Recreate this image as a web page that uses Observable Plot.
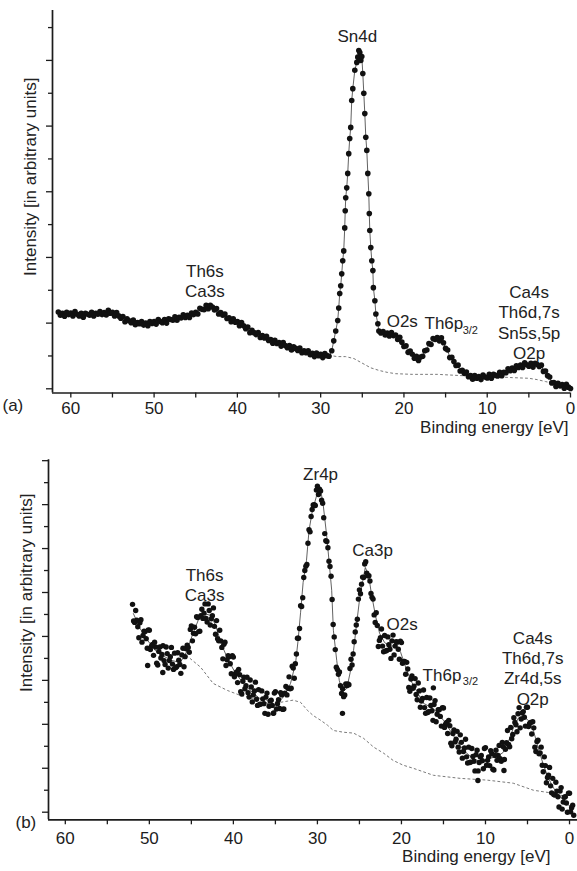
<!DOCTYPE html>
<html><head><meta charset="utf-8">
<script src="https://cdn.jsdelivr.net/npm/d3@7"></script>
<script src="https://cdn.jsdelivr.net/npm/@observablehq/plot@0.6"></script>
<style>
body{margin:0;background:#fff;}
#chart svg{display:block;}
</style></head><body><div id="chart"></div>
<script>
// ---------- Panel (a): Sn-containing sample ----------
const aBandHigh = [[61.5,11.7],[61.25,11.2],[61.0,11.5],[60.75,11.05],[60.5,11.65],[60.25,11.3],[60.0,11.55],[59.75,11.1],[59.5,11.75],[59.25,11.35],[59.0,11.1],[58.75,11.5],[58.5,10.9],[58.25,11.5],[58.0,11.35],[57.75,11.2],[57.5,11.65],[57.25,11.1],[57.0,11.5],[56.75,11.35],[56.5,11.75],[56.25,11.3],[56.0,11.6],[55.75,11.25],[55.5,11.95],[55.25,11.5],[55.0,11.65],[54.75,11.1],[54.5,11.6],[54.25,11.1],[54.0,10.75],[53.75,11.0],[53.5,10.2],[53.25,10.65],[53.0,10.35],[52.75,10.05],[52.5,10.45],[52.25,9.75],[52.0,10.1],[51.75,9.9],[51.5,10.25],[51.25,9.7],[51.0,10.0],[50.75,9.6],[50.5,10.25],[50.25,9.95],[50.0,10.25],[49.75,9.85],[49.5,10.55],[49.25,10.25],[49.0,10.05],[48.75,10.55],[48.5,10.0],[48.25,10.65],[48.0,10.55],[47.75,10.45],[47.5,10.95],[47.25,10.45],[47.0,10.9],[46.75,10.8],[46.5,11.25],[46.25,10.85],[46.0,11.2],[45.75,10.85],[45.5,11.55],[45.25,11.3],[45.0,11.65],[44.75,11.4],[44.5,12.25],[44.25,12.1],[44.0,12.05],[43.75,12.7],[43.5,12.2],[43.25,12.7],[43.0,12.45],[42.75,12.0],[42.5,12.2],[42.25,11.4],[42.0,11.6],[41.75,11.2],[41.5,11.4],[41.25,10.7],[41.0,10.8],[40.75,10.2],[40.5,10.65],[40.25,10.15],[40.0,10.25],[39.75,9.6],[39.5,10.1],[39.25,9.6],[39.0,9.15],[38.75,9.4],[38.5,8.55],[38.25,8.9],[38.0,8.55],[37.75,8.25],[37.5,8.55],[37.25,7.8],[37.0,8.1],[36.75,7.75],[36.5,8.0],[36.25,7.35],[36.0,7.5],[35.75,6.95],[35.5,7.4],[35.25,6.9],[35.0,7.05],[34.75,6.5],[34.5,7.05],[34.25,6.6],[34.0,6.25],[33.75,6.6],[33.5,5.9],[33.25,6.4],[33.0,6.15],[32.75,5.85],[32.5,6.2],[32.25,5.5],[32.0,5.8],[31.75,5.5],[31.5,5.8],[31.25,5.2],[31.0,5.4],[30.75,4.9],[30.5,5.45],[30.25,5.05],[30.0,5.25],[29.75,4.75],[29.5,5.35],[29.25,5.05],[29.0,4.95]];
const aPeak = [[28.67,5.8],[28.43,7.3],[28.19,8.8],[27.95,10.4],[27.83,12.3],[27.71,14.5],[27.59,15.7],[27.47,17.5],[27.35,19.5],[27.23,21.0],[27.11,24.5],[27.05,27.1],[26.99,29.1],[26.87,30.6],[26.75,32.8],[26.63,35.8],[26.51,38.1],[26.39,39.8],[26.27,43.9],[26.14,45.7],[25.9,48.5],[25.66,49.7],[25.54,50.5],[25.42,51.5],[25.3,51.2],[25.18,50.0],[25.06,50.6],[24.94,48.0],[24.82,45.0],[24.7,41.9],[24.58,38.3],[24.46,36.3],[24.34,32.8],[24.22,29.7],[24.16,26.7],[24.1,24.1],[23.98,21.5],[23.86,19.5],[23.73,18.0],[23.67,15.4],[23.49,13.4],[23.37,11.4],[23.13,9.9],[23.01,8.8],[22.77,8.5]];
const aBandLow = [[22.5,8.7],[22.25,8.2],[22.0,8.5],[21.75,8.05],[21.5,8.55],[21.25,8.1],[21.0,8.2],[20.75,7.5],[20.5,7.85],[20.25,7.1],[20.0,6.45],[19.75,6.55],[19.5,5.55],[19.25,5.75],[19.0,5.25],[18.75,4.65],[18.5,4.95],[18.25,4.3],[18.0,4.85],[17.75,4.95],[17.5,5.8],[17.25,5.9],[17.0,6.9],[16.75,6.75],[16.5,7.65],[16.25,7.5],[16.0,7.8],[15.75,7.3],[15.5,7.75],[15.25,7.0],[15.0,6.15],[14.75,5.9],[14.5,4.75],[14.25,4.8],[14.0,4.15],[13.75,3.55],[13.5,3.6],[13.25,2.7],[13.0,2.8],[12.75,2.35],[12.5,2.55],[12.25,1.85],[12.0,2.0],[11.75,1.45],[11.5,2.0],[11.25,1.6],[11.0,1.85],[10.75,1.4],[10.5,2.1],[10.25,1.8],[10.0,1.65],[9.75,2.2],[9.5,1.6],[9.25,2.2],[9.0,2.05],[8.75,1.95],[8.5,2.5],[8.25,2.0],[8.0,2.5],[7.75,2.45],[7.5,3.05],[7.25,2.75],[7.0,3.15],[6.75,2.8],[6.5,3.5],[6.25,3.25],[6.0,3.6],[5.75,3.25],[5.5,3.95],[5.25,3.65],[5.0,3.45],[4.75,3.9],[4.5,3.3],[4.25,3.9],[4.0,3.7],[3.75,3.4],[3.5,3.6],[3.25,2.65],[3.0,2.7],[2.75,2.0],[2.5,1.8],[2.25,0.9],[2.0,0.95],[1.75,0.35],[1.5,0.85],[1.25,0.45],[1.0,0.65],[0.75,0.1],[0.5,0.7],[0.25,0.25],[0.0,0.05]];
const aBackground = [[29.0,5.1],[28.0,4.9],[27.0,4.9],[26.0,4.6],[25.0,3.9],[24.0,3.2],[23.0,2.8],[22.0,2.5],[21.0,2.3],[19.0,2.2],[16.0,2.2],[13.0,2.0],[10.0,1.9],[7.0,1.7],[5.0,1.6],[4.0,1.4],[3.0,1.1],[2.0,0.8],[1.0,0.5],[0.0,0.2]];
const aLabels = [
  {e:43.9, v:16.5, t:"Th6s\nCa3s"},
  {e:25.6, v:53.8, t:"Sn4d"},
  {e:20.2, v:10.4, t:"O2s"},
  {e:4.97, v:10.2, t:"Ca4s\nTh6d,7s\nSn5s,5p\nO2p"}
];
const aLabelStart = [{e:17.53, v:9.95, t:"Th6p"}];
const aSub = [{e:12.95, v:8.9, t:"3/2"}];

// ---------- Panel (b): Zr-containing sample ----------
const bPoints = [[52.0,47.3],[51.75,43.2],[51.5,43.7],[51.25,39.7],[51.0,43.8],[50.75,40.2],[50.5,41.1],[50.25,37.3],[50.0,41.4],[49.75,37.8],[49.5,35.7],[49.25,37.6],[49.0,33.5],[48.75,37.6],[48.5,35.9],[48.25,34.5],[48.0,37.6],[47.75,32.8],[47.5,35.4],[47.25,33.7],[47.0,36.2],[46.75,33.1],[46.5,34.6],[46.25,31.6],[46.0,37.3],[45.75,35.4],[45.5,38.0],[45.25,36.4],[45.0,42.4],[44.75,40.7],[44.5,40.6],[44.25,44.3],[44.0,41.2],[43.75,46.2],[43.5,45.3],[43.25,44.1],[43.0,47.4],[42.75,42.6],[42.5,44.7],[42.25,42.3],[42.0,43.6],[41.75,39.0],[41.5,39.0],[41.25,34.9],[41.0,38.7],[40.75,34.7],[40.5,35.4],[40.25,31.5],[40.0,35.3],[39.75,31.5],[39.5,29.5],[39.25,31.3],[39.0,26.9],[38.75,30.7],[38.5,28.8],[38.25,27.2],[38.0,30.1],[37.75,25.1],[37.5,27.6],[37.25,25.7],[37.0,27.9],[36.75,24.6],[36.5,25.8],[36.25,22.5],[36.0,27.1],[35.75,24.1],[35.5,25.5],[35.25,22.5],[35.0,27.4],[34.75,24.7],[34.5,23.6],[34.25,26.7],[34.0,23.5],[33.75,28.6],[33.5,28.2],[33.25,28.1],[33.0,33.2],[32.75,30.5],[32.5,36.0],[32.25,39.6],[32.0,47.0],[31.75,48.8],[31.5,55.0],[31.25,56.4],[31.0,64.3],[30.75,67.3],[30.5,69.9],[30.25,69.8],[30.0,74.2],[29.75,73.5],[29.5,71.0],[29.25,67.0],[29.0,61.8],[28.75,60.2],[28.5,55.9],[28.25,48.4],[28.0,39.9],[27.75,33.0],[27.5,31.4],[27.25,28.8],[27.0,28.1],[26.75,26.7],[26.5,28.8],[26.25,29.0],[26.0,34.8],[25.75,36.0],[25.5,41.0],[25.25,43.9],[25.0,50.6],[24.75,51.9],[24.5,53.4],[24.25,57.0],[24.0,53.8],[23.75,52.6],[23.5,48.9],[23.25,44.9],[23.0,45.4],[22.75,37.7],[22.5,39.7],[22.25,37.8],[22.0,40.2],[21.75,36.8],[21.5,38.1],[21.25,35.0],[21.0,40.3],[20.75,37.8],[20.5,38.7],[20.25,34.8],[20.0,38.6],[19.75,34.3],[19.5,31.4],[19.25,32.6],[19.0,27.5],[18.75,31.0],[18.5,28.7],[18.25,26.8],[18.0,29.4],[17.75,23.9],[17.5,25.9],[17.25,23.8],[17.0,26.1],[16.75,22.9],[16.5,24.3],[16.25,20.9],[16.0,25.4],[15.75,22.3],[15.5,23.3],[15.25,19.6],[15.0,23.7],[14.75,20.0],[14.5,17.9],[14.25,19.7],[14.0,15.1],[13.75,18.7],[13.5,16.6],[13.25,14.8],[13.0,17.6],[12.75,12.3],[12.5,14.6],[12.25,12.6],[12.0,14.8],[11.75,11.4],[11.5,12.7],[11.25,9.4],[11.0,14.1],[10.75,11.3],[10.5,12.9],[10.25,9.9],[10.0,14.7],[9.75,11.8],[9.5,10.6],[9.25,13.3],[9.0,9.6],[8.75,14.1],[8.5,12.9],[8.25,12.2],[8.0,15.9],[7.75,12.0],[7.5,15.8],[7.25,15.4],[7.0,19.3],[6.75,17.7],[6.5,20.4],[6.25,18.3],[6.0,23.8],[5.75,21.2],[5.5,22.9],[5.25,19.6],[5.0,23.9],[4.75,20.2],[4.5,17.8],[4.25,19.2],[4.0,13.8],[3.75,16.4],[3.5,13.5],[3.25,10.7],[3.0,12.6],[2.75,6.7],[2.5,8.4],[2.25,6.0],[2.0,7.7],[1.75,3.9],[1.5,4.8],[1.25,1.2],[1.0,5.6],[0.75,2.3],[0.5,3.5],[0.25,0.0],[0.0,4.3],[-0.25,1.0],[-0.5,-0.7]];
const bPoints2 = [[51.875,43.5],[51.625,45.9],[51.375,42.2],[51.125,43.1],[50.875,38.7],[50.625,41.2],[50.375,39.5],[50.125,41.5],[49.875,37.0],[49.625,38.2],[49.375,38.7],[49.125,33.9],[48.875,36.6],[48.625,35.1],[48.375,37.9],[48.125,33.6],[47.875,36.1],[47.625,34.5],[47.375,37.5],[47.125,32.5],[46.875,32.9],[46.625,36.3],[46.375,33.6],[46.125,35.8],[45.875,33.1],[45.625,37.2],[45.375,37.5],[45.125,41.6],[44.875,39.0],[44.625,42.1],[44.375,44.5],[44.125,41.1],[43.875,44.7],[43.625,44.1],[43.375,47.4],[43.125,43.3],[42.875,45.9],[42.625,44.0],[42.375,46.5],[42.125,40.5],[41.875,39.5],[41.625,41.4],[41.375,37.5],[41.125,38.2],[40.875,33.4],[40.625,35.6],[40.375,33.8],[40.125,35.6],[39.875,30.8],[39.625,31.9],[39.375,32.5],[39.125,27.4],[38.875,29.8],[38.625,28.1],[38.375,30.7],[38.125,26.2],[37.875,28.5],[37.625,26.7],[37.375,29.6],[37.125,24.3],[36.875,24.5],[36.625,27.6],[36.375,24.7],[36.125,26.2],[35.875,22.3],[35.625,25.3],[35.375,24.3],[35.125,27.1],[34.875,23.5],[34.625,25.6],[34.375,27.2],[34.125,23.4],[33.875,27.1],[33.625,26.7],[33.375,30.8],[33.125,28.2],[32.875,32.8],[32.625,33.8],[32.375,39.6],[32.125,41.8],[31.875,46.8],[31.625,53.4],[31.375,56.0],[31.125,61.2],[30.875,63.8],[30.625,68.9],[30.375,70.0],[30.125,73.3],[29.875,72.3],[29.625,73.1],[29.375,70.3],[29.125,63.4],[28.875,61.6],[28.625,57.1],[28.375,53.7],[28.125,42.7],[27.875,37.0],[27.625,32.5],[27.375,31.9],[27.125,27.0],[26.875,26.3],[26.625,29.2],[26.375,29.2],[26.125,32.7],[25.875,33.5],[25.625,38.8],[25.375,42.6],[25.125,48.5],[24.875,49.7],[24.625,53.5],[24.375,56.5],[24.125,54.4],[23.875,53.8],[23.625,49.8],[23.375,48.5],[23.125,43.2],[22.875,42.5],[22.625,39.1],[22.375,41.7],[22.125,36.5],[21.875,36.7],[21.625,39.9],[21.375,37.1],[21.125,39.0],[20.875,35.8],[20.625,38.8],[20.375,37.1],[20.125,38.9],[19.875,33.9],[19.625,34.3],[19.375,34.1],[19.125,28.4],[18.875,30.3],[18.625,28.2],[18.375,30.4],[18.125,25.6],[17.875,27.6],[17.625,25.3],[17.375,27.8],[17.125,22.5],[16.875,22.7],[16.625,26.0],[16.375,23.1],[16.125,24.5],[15.875,20.6],[15.625,23.3],[15.375,21.8],[15.125,23.8],[14.875,19.3],[14.625,20.4],[14.375,20.9],[14.125,15.7],[13.875,17.9],[13.625,16.0],[13.375,18.4],[13.125,13.7],[12.875,15.9],[12.625,13.8],[12.375,16.6],[12.125,11.2],[11.875,11.3],[11.625,14.5],[11.375,11.6],[11.125,13.1],[10.875,9.4],[10.625,12.6],[10.375,11.7],[10.125,14.5],[9.875,10.7],[9.625,12.6],[9.375,14.0],[9.125,9.8],[8.875,12.9],[8.625,11.8],[8.375,15.2],[8.125,11.6],[7.875,14.9],[7.625,14.3],[7.375,18.6],[7.125,14.9],[6.875,16.7],[6.625,21.5],[6.375,19.9],[6.125,22.4],[5.875,19.2],[5.625,22.6],[5.375,21.6],[5.125,23.9],[4.875,19.5],[4.625,20.4],[4.375,20.6],[4.125,14.8],[3.875,16.1],[3.625,13.3],[3.375,14.8],[3.125,9.2],[2.875,10.6],[2.625,7.9],[2.375,10.2],[2.125,4.4],[1.875,4.0],[1.625,6.8],[1.375,3.5],[1.125,4.8],[0.875,0.7],[0.625,3.4],[0.375,2.1],[0.125,4.3],[-0.125,0.1],[-0.375,1.6]];
const bOutliers = [[50.2,33.4],[48.4,31.8],[35.2,22.6],[27.02,22.5],[16.2,28.3],[10.9,7.2],[7.8,9.5]];
const bFit = [[51.9,45.2],[51.1,41.8],[50.2,39.1],[49.3,36.8],[48.3,35.5],[47.3,34.5],[46.3,34.1],[45.6,36.4],[44.9,40.2],[44.2,43.6],[43.5,45.2],[42.7,44.8],[42.1,42.5],[41.5,38.6],[40.7,35.0],[39.8,31.8],[38.8,29.3],[38.0,27.7],[37.0,26.1],[36.2,25.0],[35.4,24.3],[34.6,25.0],[33.9,26.6],[33.2,29.3],[32.6,33.9],[32.3,39.1],[32.0,45.5],[31.7,52.3],[31.3,57.3],[31.0,64.1],[30.6,68.6],[30.1,72.0],[29.6,73.2],[29.3,69.8],[28.9,63.0],[28.6,56.8],[28.3,50.5],[28.1,41.4],[27.7,34.5],[27.4,30.0],[27.0,27.3],[26.5,28.2],[26.1,31.8],[25.7,36.8],[25.4,41.8],[25.0,48.2],[24.6,52.7],[24.3,55.7],[23.9,53.9],[23.6,50.0],[23.1,44.8],[22.6,40.7],[22.0,38.6],[21.3,37.7],[20.7,38.0],[20.1,36.4],[19.5,33.0],[18.9,30.0],[18.1,27.3],[17.4,24.8],[16.5,23.9],[15.7,22.7],[15.0,20.9],[14.2,18.6],[13.3,15.9],[12.6,14.1],[11.8,12.7],[11.0,11.8],[10.1,11.8],[9.4,12.3],[8.6,12.7],[7.9,13.6],[7.3,15.9],[6.7,19.1],[6.1,21.4],[5.5,21.8],[4.9,20.9],[4.3,18.6],[3.7,14.5],[3.1,10.7],[2.5,7.7],[1.9,5.5],[1.3,3.9],[0.7,2.7],[0.1,1.6],[-0.5,0.9]];
const bBackground = [[45.6,35.7],[43.9,33.0],[42.4,29.3],[40.7,27.7],[39.2,26.6],[37.6,25.9],[36.0,25.5],[34.4,25.0],[32.9,25.5],[32.0,25.0],[31.2,23.2],[30.5,22.0],[29.6,20.9],[28.8,19.8],[28.1,18.6],[26.9,18.2],[25.7,18.0],[24.5,16.8],[23.3,14.8],[22.1,13.4],[21.0,11.8],[19.8,10.7],[18.6,10.0],[16.2,8.4],[13.0,7.7],[9.8,7.3],[6.7,6.6],[4.3,5.0],[1.9,4.3],[0.1,3.4]];
const bLabels = [
  {e:43.43, v:51.8, t:"Th6s\nCa3s"},
  {e:29.62, v:77.1, t:"Zr4p"},
  {e:23.43, v:59.9, t:"Ca3p"},
  {e:19.92, v:42.9, t:"O2s"},
  {e:4.38, v:32.9, t:"Ca4s\nTh6d,7s\nZr4d,5s\nO2p"}
];
const bLabelStart = [{e:17.48, v:31.1, t:"Th6p"}];
const bSub = [{e:12.7, v:29.7, t:"3/2"}];

// ---------- Tick values ----------
const xMajor = [60, 50, 40, 30, 20, 10, 0];
const xMinor = [55, 45, 35, 25, 15, 5];
const aYMajor = [0, 10, 20, 30, 40, 50];
const aYMinor = [5, 15, 25, 35, 45, 55];
const bYMajor = [0, 10, 20, 30, 40, 50, 60, 70, 80];
const bYMinor = [5, 15, 25, 35, 45, 55, 65, 75];

const FONT = "'Liberation Sans', Arial, Helvetica, sans-serif";
const INK = "#1c1c1c";
const obj = arr => arr.map(([e, v]) => ({e, v}));

function panel(o) {
  return Plot.plot({
    width: 577, height: o.height,
    marginLeft: o.ml, marginRight: o.mr, marginTop: o.mt, marginBottom: o.mb,
    x: {domain: o.xDomain, label: null},
    y: {domain: o.yDomain, label: null},
    style: {fontFamily: FONT, fontSize: "17px", color: INK, background: "white", overflow: "visible"},
    marks: [
      Plot.line(obj(o.bg), {x: "e", y: "v", stroke: "#7a7a7a", strokeWidth: 1, strokeDasharray: "2,3"}),
      Plot.line(obj(o.fit), {x: "e", y: "v", stroke: "#3a3a3a", strokeWidth: 0.8}),
      Plot.dot(obj(o.dots), {x: "e", y: "v", r: o.r, fill: "#111", stroke: "none"}),
      Plot.axisY({ticks: o.yMajor, tickSize: 6, tickFormat: () => "", strokeWidth: 1.3}),
      Plot.axisY({ticks: o.yMinor, tickSize: 4, tickFormat: () => "", strokeWidth: 1.3}),
      Plot.axisX({ticks: xMajor, tickSize: 5, tickPadding: o.tp, tickFormat: d => String(d), strokeWidth: 1.3, fontSize: 17}),
      Plot.axisX({ticks: xMinor, tickSize: 5, tickFormat: () => "", strokeWidth: 1.3}),
      Plot.ruleX([o.xDomain[0]], {stroke: INK, strokeWidth: 1.7}),
      Plot.ruleY([o.yDomain[0]], {stroke: INK, strokeWidth: 1.7}),
      Plot.text(o.labels, {x: "e", y: "v", text: "t", lineHeight: o.lh, fontSize: 17, fill: "#222"}),
      Plot.text(o.labelStart, {x: "e", y: "v", text: "t", textAnchor: "start", fontSize: 17, fill: "#222"}),
      Plot.text(o.sub, {x: "e", y: "v", text: "t", textAnchor: "start", fontSize: 11, fill: "#222"}),
      Plot.text(["Binding energy [eV]"], {frameAnchor: "bottom-right", textAnchor: "end", dx: o.tdx, dy: o.tdy, fontSize: 17, fill: "#222"}),
      Plot.text(["Intensity [in arbitrary units]"], {frameAnchor: "left", textAnchor: "middle", rotate: -90, dx: o.ydx, dy: o.ydy, fontSize: 17, fill: "#222"}),
      Plot.text([o.tag], {frameAnchor: "bottom-left", textAnchor: "start", dx: o.gdx, dy: o.gdy, fontSize: 17, fill: "#222"})
    ]
  });
}

const aAll = aBandHigh.concat(aPeak, aBandLow);
const chartA = panel({
  height: 442, ml: 52, mr: 7, mt: 10, mb: 49.5,
  xDomain: [62.2, 0], yDomain: [-0.64, 57.6],
  dots: aAll, fit: aAll, bg: aBackground, r: 2.8,
  yMajor: aYMajor, yMinor: aYMinor, tp: 3.5,
  labels: aLabels, labelStart: aLabelStart, sub: aSub, lh: 1.2,
  tdx: -2, tdy: 39.5, ydx: -22, ydy: -25, tag: "(a)", gdx: -50, gdy: 18
});
const chartB = panel({
  height: 429, ml: 48, mr: 0, mt: 17.3, mb: 51.7,
  xDomain: [62, -0.95], yDomain: [-1.73, 80.2],
  dots: bPoints.concat(bPoints2, bOutliers), fit: bFit, bg: bBackground, r: 2.7,
  yMajor: bYMajor, yMinor: bYMinor, tp: 7.5,
  labels: bLabels, labelStart: bLabelStart, sub: bSub, lh: 1.2,
  tdx: -27, tdy: 42.4, ydx: -22, ydy: -47, tag: "(b)", gdx: -33, gdy: 8
});
document.getElementById("chart").append(chartA, chartB);
</script></body></html>
